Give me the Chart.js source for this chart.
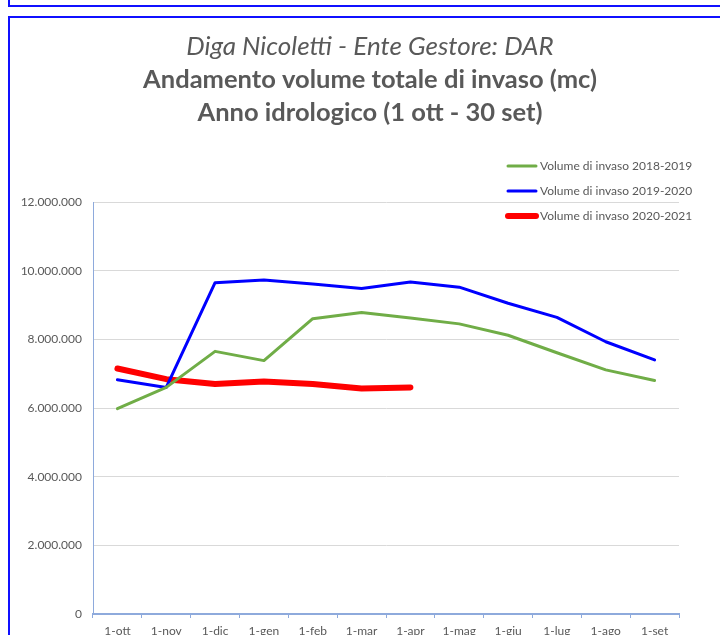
<!DOCTYPE html>
<html>
<head>
<meta charset="utf-8">
<script src="https://cdn.jsdelivr.net/npm/chart.js@4"></script>
<style>
  html, body { margin: 0; padding: 0; background: #fff; overflow: hidden; }
  .box { position: absolute; border: 2px solid #1010ff; box-sizing: border-box; }
  #chart { position: absolute; left: 0; top: 0; }
</style>
</head>
<body>
<div class="box" style="left:8px; top:-20px; width:800px; height:27px;"></div>
<div class="box" style="left:8px; top:16px; width:800px; height:700px;"></div>
<canvas id="chart" width="720" height="635"></canvas>
<script>
const months = ['1-ott', '1-nov', '1-dic', '1-gen', '1-feb', '1-mar', '1-apr', '1-mag', '1-giu', '1-lug', '1-ago', '1-set'];
const vol2018 = [5980000, 6600000, 7650000, 7380000, 8600000, 8780000, 8620000, 8450000, 8120000, 7610000, 7110000, 6800000];
const vol2019 = [6820000, 6600000, 9650000, 9730000, 9610000, 9480000, 9670000, 9520000, 9050000, 8640000, 7930000, 7400000];
const vol2020 = [7150000, 6840000, 6700000, 6770000, 6700000, 6570000, 6600000];
const yTicks = [0, 2000000, 4000000, 6000000, 8000000, 10000000, 12000000];
const titleLines = ['Diga Nicoletti - Ente Gestore: DAR', 'Andamento volume totale di invaso (mc)', 'Anno idrologico (1 ott - 30 set)'];

const grey = '#595959';
const font = 'Lato, "Open Sans", sans-serif';

function fmt(v) {
  return String(v).replace(/\B(?=(\d{3})+(?!\d))/g, '.');
}

// title is centred on the whole frame, not on the plot, so draw it by hand
const titlePlugin = {
  id: 'frameTitle',
  afterDraw(chart) {
    const ctx = chart.ctx;
    ctx.save();
    ctx.fillStyle = grey;
    ctx.textAlign = 'center';
    ctx.textBaseline = 'middle';
    ctx.font = 'italic 26px ' + font;
    ctx.fillText(titleLines[0], 370, 47);
    ctx.font = 'bold 25.5px ' + font;
    ctx.fillText(titleLines[1], 370, 80);
    ctx.fillText(titleLines[2], 370, 113);
    ctx.restore();
  }
};

// legend drawn inside the plot, top right, like the original sheet
const legendPlugin = {
  id: 'sideLegend',
  afterDatasetsDraw(chart) {
    const ctx = chart.ctx;
    const rows = [166, 191, 216];
    ctx.save();
    ctx.font = '12px ' + font;
    ctx.textBaseline = 'middle';
    chart.data.datasets.forEach((ds, i) => {
      ctx.strokeStyle = ds.borderColor;
      ctx.lineWidth = ds.borderWidth;
      ctx.lineCap = 'round';
      ctx.beginPath();
      ctx.moveTo(508, rows[i]);
      ctx.lineTo(536, rows[i]);
      ctx.stroke();
      ctx.fillStyle = grey;
      ctx.fillText(ds.label, 540, rows[i]);
    });
    ctx.restore();
  }
};

new Chart(document.getElementById('chart'), {
  type: 'line',
  data: {
    labels: months,
    datasets: [
      { label: 'Volume di invaso 2018-2019', data: vol2018, borderColor: '#70ad47', borderWidth: 3 },
      { label: 'Volume di invaso 2019-2020', data: vol2019, borderColor: '#0000ff', borderWidth: 3 },
      { label: 'Volume di invaso 2020-2021', data: vol2020, borderColor: '#ff0000', borderWidth: 6 }
    ]
  },
  options: {
    responsive: false,
    animation: false,
    layout: { padding: { left: 0, right: 41, top: 202, bottom: 0 } },
    elements: {
      point: { radius: 0 },
      line: { tension: 0, borderJoinStyle: 'round', borderCapStyle: 'round' }
    },
    plugins: {
      legend: { display: false },
      tooltip: { enabled: false },
      title: { display: false }
    },
    scales: {
      x: {
        offset: true,
        afterFit(scale) { scale.height = 21; },
        grid: { offset: true, drawOnChartArea: false, drawTicks: true, tickLength: 4, color: '#8eaadc' },
        border: { color: '#8eaadc', width: 2 },
        ticks: { color: grey, font: { family: font, size: 12 }, padding: 6, maxRotation: 0, autoSkip: false }
      },
      y: {
        min: 0,
        max: 12000000,
        afterFit(scale) { scale.width = 93; },
        afterBuildTicks(scale) { scale.ticks = yTicks.map(v => ({ value: v })); },
        grid: { color: '#d9d9d9', drawTicks: false },
        border: { color: '#8eaadc', width: 1 },
        ticks: { color: grey, font: { family: font, size: 12 }, padding: 11, callback: v => fmt(v) }
      }
    }
  },
  plugins: [legendPlugin, titlePlugin]
});
</script>
</body>
</html>
